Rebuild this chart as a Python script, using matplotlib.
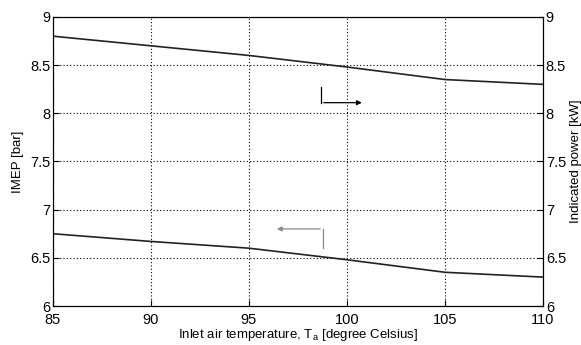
import numpy as np
import matplotlib
matplotlib.use("Agg")
import matplotlib.pyplot as plt

plt.rcParams['font.family'] = ['Liberation Sans', 'DejaVu Sans']

temp = [85, 90, 95, 100, 105, 110]
imep = [6.75, 6.67, 6.60, 6.48, 6.35, 6.30]
power = [8.80, 8.70, 8.60, 8.48, 8.35, 8.30]
yticks = [6, 6.5, 7, 7.5, 8, 8.5, 9]
ytick_labels = ["6", "6.5", "7", "7.5", "8", "8.5", "9"]

fig = plt.figure(figsize=(5.81, 3.45), dpi=100)
ax = fig.add_axes([0.0912, 0.113, 0.8434, 0.838])
ax.plot(temp, imep, color="#222222", lw=1.2)
ax.set_xlim(85, 110)
ax.set_ylim(6, 9)
ax.set_xticks(temp)
ax.set_yticks(yticks)
ax.set_yticklabels(ytick_labels)
ax.grid(True, color="black", linestyle=(0, (1, 2)), linewidth=0.8)
ax.tick_params(direction="in", labelsize=10.5, pad=2, length=4)
ax.tick_params(axis="x", labelsize=10.5, pad=5)
ax.set_xlabel("Inlet air temperature, T$_\\mathregular{a}$ [degree Celsius]", fontsize=9.5, labelpad=0)
ax.set_ylabel("IMEP [bar]", fontsize=9.5, labelpad=4)

ax2 = ax.twinx()
ax2.plot(temp, power, color="#222222", lw=1.2)
ax2.set_ylim(6, 9)
ax2.set_yticks(yticks)
ax2.set_yticklabels(ytick_labels)
ax2.tick_params(direction="in", labelsize=10.5, pad=2, length=4)
ax2.set_ylabel("Indicated power [kW]", fontsize=9.5, labelpad=3)

# arrow pointing right (power curve -> right axis)
ax.plot([98.67, 98.67], [8.27, 8.11], color="black", lw=0.9)
ax.annotate("", xy=(100.9, 8.11), xytext=(98.67, 8.11),
            arrowprops=dict(arrowstyle="-|>", color="black", lw=0.9, mutation_scale=7))
# arrow pointing left (imep curve -> left axis)
ax.plot([98.78, 98.78], [6.60, 6.80], color="#888888", lw=0.9)
ax.annotate("", xy=(96.28, 6.80), xytext=(98.78, 6.80),
            arrowprops=dict(arrowstyle="-|>", color="#888888", lw=0.9, mutation_scale=7))

fig.savefig("out.png", dpi=100)
